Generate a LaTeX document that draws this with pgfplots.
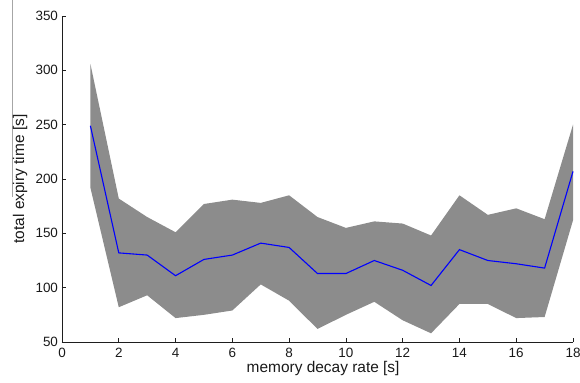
\documentclass[border=0pt]{standalone}
\usepackage{pgfplots}
\pgfplotsset{compat=1.18}
\usepackage{fontspec}
\setmainfont{Liberation Sans}
\definecolor{bandgray}{RGB}{140,140,140}
\definecolor{axgray}{RGB}{30,30,30}
\begin{document}
\begin{tikzpicture}
\useasboundingbox (-62bp,-41bp) rectangle (518bp,342bp);
\draw[gray!70, line width=0.8bp] (-50bp,342bp) -- (-50bp,145bp);
\begin{axis}[
  at={(0,0)}, anchor=south west,
  scale only axis, width=511bp, height=326bp,
  xmin=0, xmax=18, ymin=50, ymax=350,
  axis x line*=bottom, axis y line*=left,
  axis line style={axgray, line width=0.8bp},
  tick align=inside,
  major tick length=4bp,
  tick style={axgray, line width=0.7bp},
  xtick={0,2,...,18}, ytick={50,100,...,350},
  /pgf/number format/assume math mode=true,
  ticklabel style={font=\fontsize{13.5}{15}\selectfont, text=black!90},
  yticklabel style={xshift=-0.5bp},
  xticklabel style={yshift=-3bp},
  xlabel={memory decay rate [s]},
  ylabel={total expiry time [s]},
  label style={font=\fontsize{15.5}{18}\selectfont, text=black!90},
  xlabel style={at={(axis description cs:0.511,-0.08)}, anchor=center},
  ylabel style={at={(axis description cs:-0.082,0.5)}, rotate=0, anchor=center},
  clip=false,
]
\addplot[fill=bandgray, draw=none] coordinates {
 (1,306) (2,182) (3,165) (4,151) (5,177) (6,181) (7,178) (8,185) (9,165)
 (10,155) (11,161) (12,159) (13,148) (14,185) (15,167) (16,173) (17,163) (18,250)
 (18,162) (17,73) (16,72) (15,85) (14,85) (13,58) (12,70) (11,87) (10,75)
 (9,62) (8,88) (7,103) (6,79) (5,75) (4,72) (3,93) (2,82) (1,192)
} -- cycle;
\addplot[blue, line width=1.1bp] coordinates {
 (1,249) (2,132) (3,130) (4,111) (5,126) (6,130) (7,141) (8,137) (9,113)
 (10,113) (11,125) (12,116) (13,102) (14,135) (15,125) (16,122) (17,118) (18,207)
};
\end{axis}
\end{tikzpicture}
\end{document}
